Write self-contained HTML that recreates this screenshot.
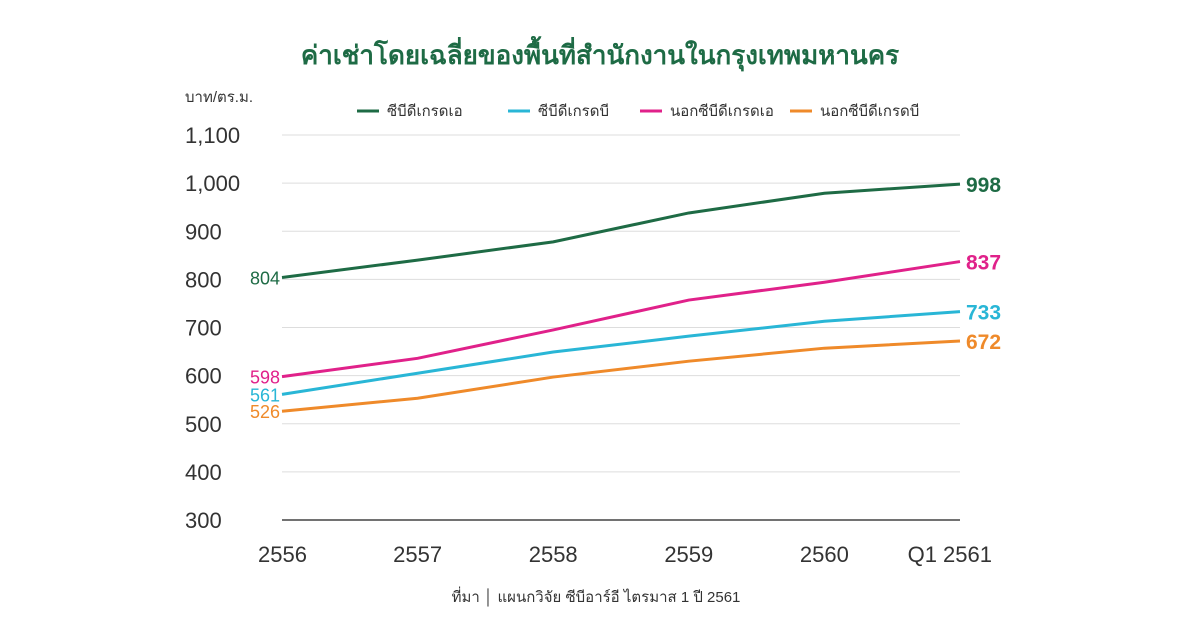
<!DOCTYPE html>
<html><head><meta charset="utf-8"><style>
body{margin:0;background:#fff;}
svg{display:block;font-family:"Liberation Sans Narrow","Liberation Sans","DejaVu Sans",sans-serif;}
</style></head><body>
<svg id="chart" width="1200" height="628" viewBox="0 0 1200 628">
<text x="600" y="64" text-anchor="middle" font-size="26" font-weight="bold" fill="#1e6b45">ค่าเช่าโดยเฉลี่ยของพื้นที่สำนักงานในกรุงเทพมหานคร</text>
<text x="185" y="102" font-size="15" fill="#333">บาท/ตร.ม.</text>
<g id="legend"></g>
<g id="grid"></g><g id="lines"></g><g id="labels"></g>
<text x="596" y="602" text-anchor="middle" font-size="15" fill="#333">ที่มา  │  แผนกวิจัย ซีบีอาร์อี  ไตรมาส 1 ปี 2561</text>
</svg>
<script>
const categories=["2556","2557","2558","2559","2560","Q1 2561"];
const yTicks=[300,400,500,600,700,800,900,1000,1100];
const yTickLabels=["300","400","500","600","700","800","900","1,000","1,100"];
const seriesNames=["ซีบีดีเกรดเอ","ซีบีดีเกรดบี","นอกซีบีดีเกรดเอ","นอกซีบีดีเกรดบี"];
const cbdA=[804,840,878,938,979,998];
const cbdB=[561,605,649,682,713,733];
const nonCbdA=[598,636,695,757,794,837];
const nonCbdB=[526,553,597,630,657,672];
const colors=["#1e6b45","#29b6d6","#e0218a","#ef8a2a"];
const series=[cbdA,cbdB,nonCbdA,nonCbdB];
const NS="http://www.w3.org/2000/svg";
const x0=282,x1=960,yTop=135,yBot=520,vMin=300,vMax=1100;
const xs=i=>x0+(x1-x0)*i/(categories.length-1);
const ys=v=>yBot-(v-vMin)/(vMax-vMin)*(yBot-yTop);
function mk(tag,attrs,parent,text){const e=document.createElementNS(NS,tag);for(const k in attrs)e.setAttribute(k,attrs[k]);if(text!==undefined)e.textContent=text;parent.appendChild(e);return e;}
const grid=document.getElementById('grid'),lines=document.getElementById('lines'),labels=document.getElementById('labels'),legend=document.getElementById('legend');
yTicks.forEach((t,i)=>{
 const l=mk('line',{x1:x0,x2:x1,y1:ys(t),y2:ys(t),stroke:i===0?'#444':'#ddd','stroke-width':i===0?1.5:1},grid);
 
 
 const tx=mk('text',{x:185,y:ys(t)+8,'font-size':22,fill:'#333'},grid,yTickLabels[i]);
 
 
});
categories.forEach((c,i)=>{
 const anchor=i===0?'start':(i===categories.length-1?'end':'middle');
 const xx=i===0?258:(i===categories.length-1?992:xs(i));
 const tx=mk('text',{x:xx,y:562,'font-size':22,fill:'#333','text-anchor':anchor},grid,c);
 
 
});
const lx=[357,508,640,790];
series.forEach((s,k)=>{
 const p=mk('polyline',{points:s.map((v,i)=>xs(i)+','+ys(v)).join(' '),fill:'none',stroke:colors[k],'stroke-width':3},lines);
 
 
 const a=mk('text',{x:250,y:ys(s[0])+7,'font-size':18,fill:colors[k]},labels,String(s[0]));
 
 
 const b=mk('text',{x:966,y:ys(s[s.length-1])+8,'font-size':21,'font-weight':'bold',fill:colors[k]},labels,String(s[s.length-1]));
 
 
 const ln=mk('line',{x1:lx[k],x2:lx[k]+22,y1:111,y2:111,stroke:colors[k],'stroke-width':3},legend);
 
 
 const lt=mk('text',{x:lx[k]+30,y:116,'font-size':15,fill:'#333'},legend,seriesNames[k]);
 
 
});
</script>
</body></html>
